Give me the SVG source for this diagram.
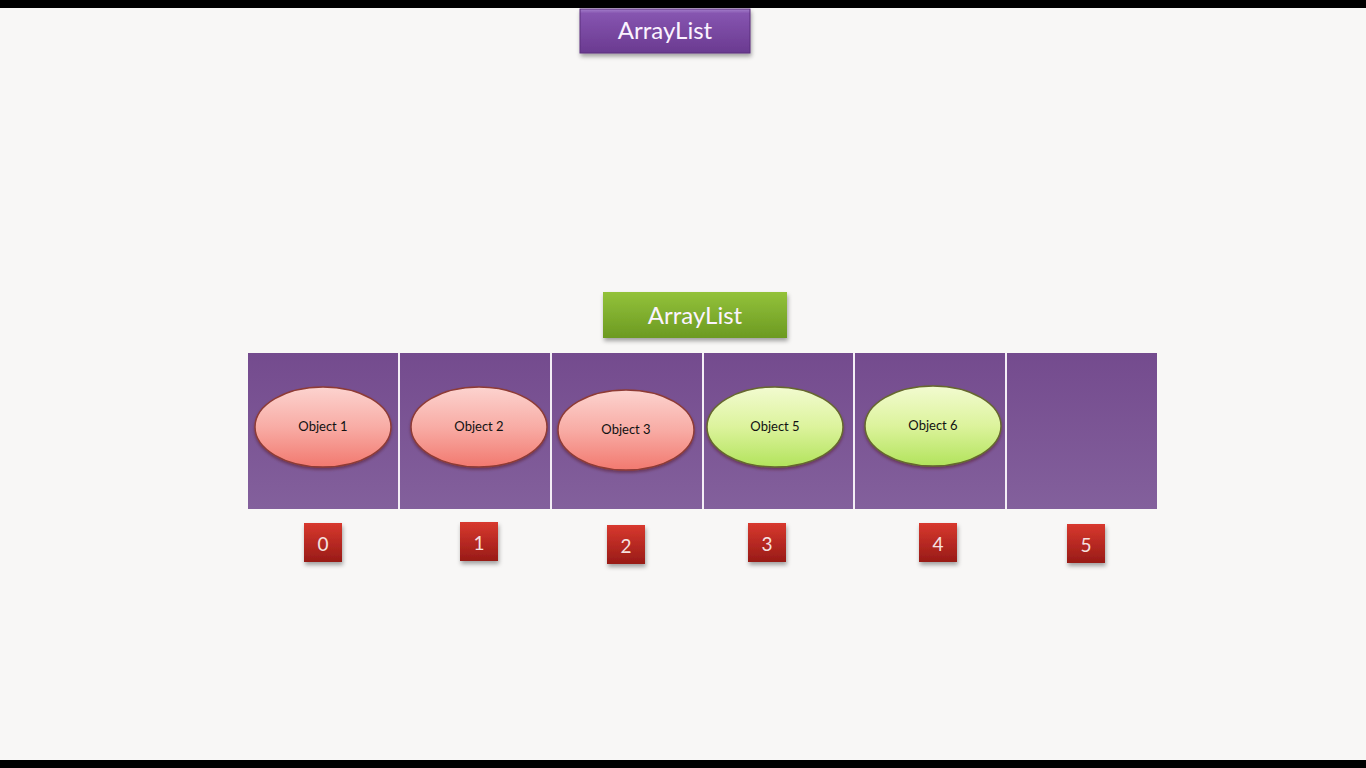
<svg xmlns="http://www.w3.org/2000/svg" width="1366" height="768" viewBox="0 0 1366 768">
<defs>
<linearGradient id="gPurple" x1="0" y1="0" x2="0" y2="1">
<stop offset="0" stop-color="#a580cc"/><stop offset="0.1" stop-color="#8655b0"/><stop offset="1" stop-color="#6a3a90"/>
</linearGradient>
<linearGradient id="gGreen" x1="0" y1="0" x2="0" y2="1">
<stop offset="0" stop-color="#93c23a"/><stop offset="1" stop-color="#6c9a22"/>
</linearGradient>
<linearGradient id="gPink" x1="0" y1="0" x2="0" y2="1">
<stop offset="0" stop-color="#fcd3cf"/><stop offset="0.5" stop-color="#f8aca5"/><stop offset="1" stop-color="#f2796f"/>
</linearGradient>
<linearGradient id="gLime" x1="0" y1="0" x2="0" y2="1">
<stop offset="0" stop-color="#f2fbd0"/><stop offset="0.5" stop-color="#dcf39c"/><stop offset="1" stop-color="#b2e35c"/>
</linearGradient>
<linearGradient id="gRed" x1="0" y1="0" x2="0" y2="1">
<stop offset="0" stop-color="#d8382e"/><stop offset="1" stop-color="#981b17"/>
</linearGradient>
<linearGradient id="gCell" x1="0" y1="0" x2="0" y2="1">
<stop offset="0" stop-color="#744b8e"/><stop offset="1" stop-color="#83609c"/>
</linearGradient>
<filter id="sh" x="-20%" y="-20%" width="140%" height="150%">
<feDropShadow dx="1" dy="3" stdDeviation="2" flood-color="#000" flood-opacity="0.35"/>
</filter>
<filter id="shs" x="-20%" y="-20%" width="140%" height="150%">
<feDropShadow dx="0" dy="2" stdDeviation="1.5" flood-color="#400" flood-opacity="0.4"/>
</filter>
</defs>
<style>
.lbl{font-family:Lato,"Open Sans","Liberation Sans",sans-serif;fill:#fbf3ff;text-anchor:middle;}
.big{font-size:24px;}
.obj{font-family:Lato,"Open Sans","Liberation Sans",sans-serif;font-size:13px;fill:#111;text-anchor:middle;}
.idx{font-family:Lato,"Open Sans","Liberation Sans",sans-serif;font-size:19px;fill:#f6e2e0;text-anchor:middle;}
.pink{fill:url(#gPink);stroke:#8e3b36;stroke-width:1.5;}
.lime{fill:url(#gLime);stroke:#66682e;stroke-width:1.5;}
.red{fill:url(#gRed);filter:url(#sh);}
.sep{stroke:#f4eef6;stroke-width:2;}
</style>
<rect x="0" y="0" width="1366" height="768" fill="#f8f7f6"/>
<rect x="0" y="0" width="1366" height="8" fill="#000"/>
<rect x="0" y="760" width="1366" height="8" fill="#000"/>

<g id="title">
<rect x="580" y="9" width="170" height="44" fill="url(#gPurple)" stroke="#5a2f7c" stroke-width="1" filter="url(#sh)"/>
<text class="lbl big" x="665" y="39">ArrayList</text>
</g>

<g id="arraylist-label">
<rect x="603" y="292" width="184" height="46" fill="url(#gGreen)" filter="url(#sh)"/>
<text class="lbl big" x="695" y="324">ArrayList</text>
</g>

<g id="array">
<rect x="248" y="353" width="909" height="156" fill="url(#gCell)"/>
<line class="sep" x1="399" y1="353" x2="399" y2="509"/>
<line class="sep" x1="551" y1="353" x2="551" y2="509"/>
<line class="sep" x1="703" y1="353" x2="703" y2="509"/>
<line class="sep" x1="854" y1="353" x2="854" y2="509"/>
<line class="sep" x1="1006" y1="353" x2="1006" y2="509"/>
</g>

<g id="obj1"><ellipse class="pink" cx="323" cy="427" rx="68" ry="40" filter="url(#shs)"/><text class="obj" x="323" y="431">Object 1</text></g>
<g id="obj2"><ellipse class="pink" cx="479" cy="427" rx="68" ry="40" filter="url(#shs)"/><text class="obj" x="479" y="431">Object 2</text></g>
<g id="obj3"><ellipse class="pink" cx="626" cy="430" rx="68" ry="40" filter="url(#shs)"/><text class="obj" x="626" y="434">Object 3</text></g>
<g id="obj5"><ellipse class="lime" cx="775" cy="427" rx="68" ry="40" filter="url(#shs)"/><text class="obj" x="775" y="431">Object 5</text></g>
<g id="obj6"><ellipse class="lime" cx="933" cy="426" rx="68" ry="40" filter="url(#shs)"/><text class="obj" x="933" y="430">Object 6</text></g>

<g id="idx0"><rect class="red" x="304" y="523" width="38" height="39"/><text class="idx" x="323" y="551">0</text></g>
<g id="idx1"><rect class="red" x="460" y="522" width="38" height="39"/><text class="idx" x="479" y="550">1</text></g>
<g id="idx2"><rect class="red" x="607" y="525" width="38" height="39"/><text class="idx" x="626" y="553">2</text></g>
<g id="idx3"><rect class="red" x="748" y="523" width="38" height="39"/><text class="idx" x="767" y="551">3</text></g>
<g id="idx4"><rect class="red" x="919" y="523" width="38" height="39"/><text class="idx" x="938" y="551">4</text></g>
<g id="idx5"><rect class="red" x="1067" y="524" width="38" height="39"/><text class="idx" x="1086" y="552">5</text></g>
</svg>
